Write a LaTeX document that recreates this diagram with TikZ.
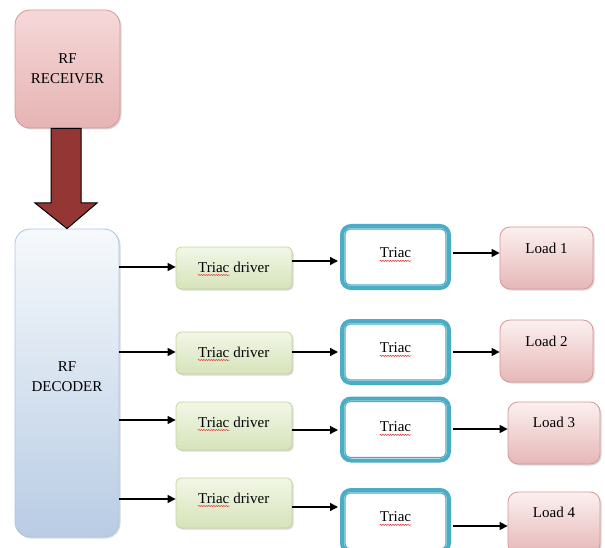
\documentclass[tikz,border=0pt]{standalone}
\usepackage{fontspec}
\setmainfont{Liberation Serif}
\usetikzlibrary{shadows,arrows.meta,decorations.pathmorphing}
\definecolor{sqred}{HTML}{E03030}
\definecolor{recTop}{HTML}{F6D8D8}
\definecolor{recBot}{HTML}{E6B3B3}
\definecolor{recBrd}{HTML}{D99594}
\definecolor{decTop}{HTML}{F6F9FC}
\definecolor{decBot}{HTML}{B8CCE4}
\definecolor{decBrd}{HTML}{B0C4DE}
\definecolor{drvTop}{HTML}{F2F7E6}
\definecolor{drvBot}{HTML}{D6E3BA}
\definecolor{drvBrd}{HTML}{C3D69B}
\definecolor{triCy}{HTML}{4BACC6}
\definecolor{ldTop}{HTML}{FCF0F0}
\definecolor{ldBot}{HTML}{E6B7B7}
\definecolor{ldBrd}{HTML}{DA9694}
\definecolor{bigArr}{HTML}{943634}
\tikzset{
  every node/.style={font=\fontsize{15}{18}\selectfont, inner sep=0pt, align=center},
  shad/.style={drop shadow={shadow xshift=1.5pt, shadow yshift=-1.5pt, opacity=0.25, fill=black!60}},
  recbox/.style={draw=recBrd, line width=0.8pt, rounded corners=15pt, top color=recTop, bottom color=recBot, shad},
  decbox/.style={draw=decBrd, line width=0.8pt, rounded corners=15pt, top color=decTop, bottom color=decBot, shad},
  drvbox/.style={draw=drvBrd, line width=0.8pt, rounded corners=5pt, top color=drvTop, bottom color=drvBot, shad, minimum width=116pt},
  tribox/.style={draw=triCy, line width=4pt, rounded corners=9pt, fill=white, minimum width=107pt},
  triin/.style={draw=triCy, line width=1.1pt, rounded corners=5pt},
  ldbox/.style={draw=ldBrd, line width=0.8pt, rounded corners=10pt, top color=ldTop, bottom color=ldBot, shad},
  arr/.style={draw=black, line width=1.4pt, -{Triangle[length=8pt,width=8pt]}},
  txt/.style={draw=none, fill=none},
  squig/.style={draw=sqred, line width=0.5pt, decorate, decoration={snake, amplitude=0.6pt, segment length=2.5pt}}
}
\newcommand\sqline[2]{\draw[squig] ([yshift=-3pt]#1.base west) -- ([yshift=-3pt]#2.base east);}
\begin{document}
\begin{tikzpicture}[x=1pt,y=-1pt]
\useasboundingbox (0,0) rectangle (605,548);
\clip (0,0) rectangle (605,548);
% receiver and decoder
\node[recbox, minimum width=105pt, minimum height=118pt] (rec) at (67.5,69) {};
\node[txt] (rect) at (67.5,69) {RF\\[2pt]RECEIVER};
\node[decbox, minimum width=104pt, minimum height=308pt] (dec) at (67,383) {};
\node[txt] (dect) at (67,377) {RF\\[2pt]DECODER};
% big arrow
\draw[fill=bigArr, draw=black, line width=1pt]
  (rec.south -| 51,0) -- (51,203) -- (35,203) -- (dec.north) -- (97,203) -- (81,203) -- (rec.south -| 81,0) -- cycle;
% triac drivers
\node[drvbox, minimum height=42pt] (d1) at (234,268) {};
\node[drvbox, minimum height=42pt] (d2) at (234,353) {};
\node[drvbox, minimum height=48pt] (d3) at (234,426) {};
\node[drvbox, minimum height=50pt] (d4) at (234,503) {};
\foreach \n/\y in {1/267,2/352,3/422,4/498}{
  \node[txt, anchor=base west] (d\n w) at (198,\y+5) {Triac};
  \node[txt, anchor=base west] (d\n v) at ([xshift=3.75pt]d\n w.base east) {driver};
  \sqline{d\n w}{d\n w}
}
% triacs
\foreach \n/\y in {1/257,2/352,3/429.5,4/521}{
  \node[tribox, minimum height=62pt] (t\n) at (395.5,\y) {};
  \draw[triin] ([shift={(5pt,5pt)}]t\n.south west) rectangle ([shift={(-5pt,-5pt)}]t\n.north east);
}
\node[txt] (t1t) at (395.5,253) {Triac};
\node[txt] (t2t) at (395.5,348) {Triac};
\node[txt] (t3t) at (395.5,427) {Triac};
\node[txt] (t4t) at (395.5,517) {Triac};
\foreach \k in {t1t,t2t,t3t,t4t}{\sqline{\k}{\k}}
% loads
\node[ldbox, minimum width=93pt, minimum height=62pt] (l1) at (546.5,258) {};
\node[ldbox, minimum width=93pt, minimum height=62pt] (l2) at (546.5,351) {};
\node[ldbox, minimum width=92pt, minimum height=62pt] (l3) at (554,433) {};
\node[ldbox, minimum width=92pt, minimum height=62pt] (l4) at (554,523) {};
\node[txt] (l1t) at ([yshift=-22pt]l1.north) {Load 1};
\node[txt] (l2t) at ([yshift=-22pt]l2.north) {Load 2};
\node[txt] (l3t) at ([yshift=-21pt]l3.north) {Load 3};
\node[txt] (l4t) at ([yshift=-21pt]l4.north) {Load 4};
% connectors decoder -> drivers
\draw[arr] (dec.east |- 0,267) -- (d1.west |- 0,267);
\draw[arr] (dec.east |- 0,352) -- (d2.west |- 0,352);
\draw[arr] (dec.east |- 0,420) -- (d3.west |- 0,420);
\draw[arr] (dec.east |- 0,499) -- (d4.west |- 0,499);
% drivers -> triacs
\draw[arr] (d1.east |- 0,261) -- ([xshift=-2pt]t1.west |- 0,261);
\draw[arr] (d2.east |- 0,352) -- ([xshift=-2pt]t2.west |- 0,352);
\draw[arr] (d3.east |- 0,430) -- ([xshift=-2pt]t3.west |- 0,430);
\draw[arr] (d4.east |- 0,507) -- ([xshift=-2pt]t4.west |- 0,507);
% triacs -> loads
\draw[arr] ([xshift=2pt]t1.east |- 0,253) -- (l1.west |- 0,253);
\draw[arr] ([xshift=2pt]t2.east |- 0,352) -- (l2.west |- 0,352);
\draw[arr] ([xshift=2pt]t3.east |- 0,429) -- (l3.west |- 0,429);
\draw[arr] ([xshift=2pt]t4.east |- 0,526) -- (l4.west |- 0,526);
\end{tikzpicture}
\end{document}
